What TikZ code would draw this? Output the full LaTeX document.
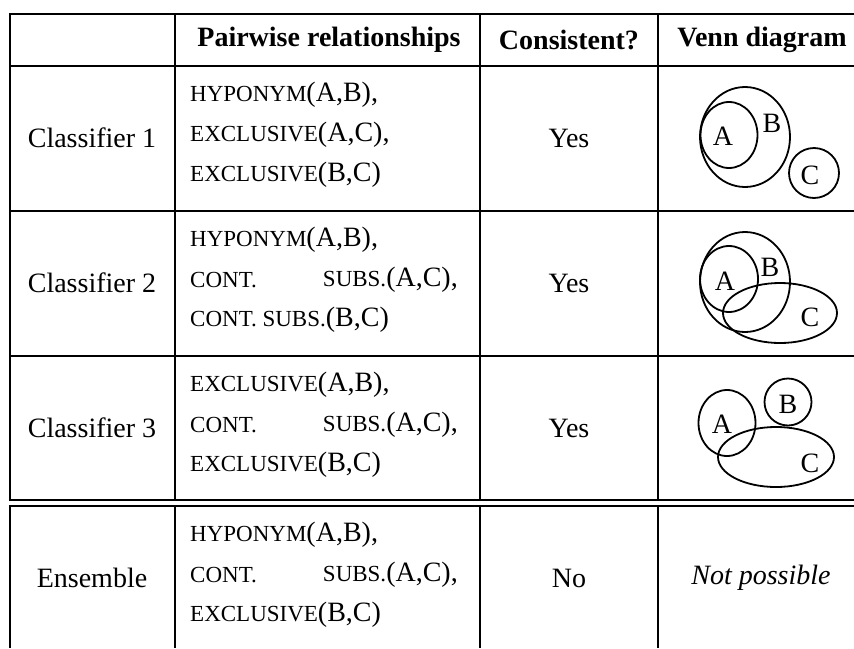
\documentclass[tikz,border=0pt]{standalone}
\usepackage{fontspec}
\setmainfont{Liberation Serif}
\usetikzlibrary{positioning}
% small capitals imitated with reduced upper-case letters
\newcommand\relname[1]{{\fontsize{23}{27}\selectfont #1}}
\tikzset{
  rule/.style={line width=2pt},
  cell/.style={inner sep=0pt, font=\fontsize{28}{33}\selectfont},
  headcell/.style={cell, font=\fontsize{28}{33}\selectfont\bfseries},
  relline/.style={cell, anchor=west},
  setshape/.style={draw, line width=1.8pt},
  setlabel/.style={cell},
}
\begin{document}
\begin{tikzpicture}[x=1pt, y=-1pt]
\useasboundingbox (0,0) rectangle (854,648);

% table rules
\draw[rule] (9,14) -- (854,14);
\draw[rule] (9,66) -- (854,66);
\draw[rule] (9,211) -- (854,211);
\draw[rule] (9,356) -- (854,356);
\draw[rule] (9,500) -- (854,500);
\draw[rule] (9,506) -- (854,506);
\foreach \x in {10,175,480,658} {
  \draw[rule] (\x,13) -- (\x,500);
  \draw[rule] (\x,506) -- (\x,648);
}

% header
\node[headcell] (hpair) at (329,40) {Pairwise relationships};
\node[headcell] (hcons) at (569,40) {Consistent?};
\node[headcell] (hvenn) at (762,40) {Venn diagram};

% row labels
\node[cell] (c1) at (92,138) {Classifier 1};
\node[cell] (c2) at (92,283) {Classifier 2};
\node[cell] (c3) at (92,428) {Classifier 3};
\node[cell] (c4) at (92,578) {Ensemble};

% consistency column
\node[cell] (y1) at (569,138) {Yes};
\node[cell] (y2) at (569,283) {Yes};
\node[cell] (y3) at (569,428) {Yes};
\node[cell] (y4) at (569,578) {No};

% pairwise relationships
\node[relline] (r1a) at (190,95) {\relname{HYPONYM}(A,B),};
\node[relline] (r1b) at (190,135) {\relname{EXCLUSIVE}(A,C),};
\node[relline] (r1c) at (190,175) {\relname{EXCLUSIVE}(B,C)};

\node[relline] (r2a) at (190,240) {\relname{HYPONYM}(A,B),};
\node[relline] (r2b) at (190,280) {\relname{CONT.}};
\node[cell, anchor=east] (r2bb) at (458,280) {\relname{SUBS.}(A,C),};
\node[relline] (r2c) at (190,320) {\relname{CONT. SUBS.}(B,C)};

\node[relline] (r3a) at (190,385) {\relname{EXCLUSIVE}(A,B),};
\node[relline] (r3b) at (190,425) {\relname{CONT.}};
\node[cell, anchor=east] (r3bb) at (458,425) {\relname{SUBS.}(A,C),};
\node[relline] (r3c) at (190,465) {\relname{EXCLUSIVE}(B,C)};

\node[relline] (r4a) at (190,535) {\relname{HYPONYM}(A,B),};
\node[relline] (r4b) at (190,575) {\relname{CONT.}};
\node[cell, anchor=east] (r4bb) at (458,575) {\relname{SUBS.}(A,C),};
\node[relline] (r4c) at (190,615) {\relname{EXCLUSIVE}(B,C)};

% Venn diagram, classifier 1: A inside B, C apart
\draw[setshape] (745,137) ellipse [x radius=45, y radius=50];
\draw[setshape] (729,135) ellipse [x radius=28.5, y radius=33];
\draw[setshape] (814,173) circle [radius=25];
\node[setlabel] (v1a) at (723,136) {A};
\node[setlabel] (v1b) at (772,123) {B};
\node[setlabel] (v1c) at (810,175) {C};

% Venn diagram, classifier 2: A inside B, C overlapping both
\draw[setshape] (745,282) ellipse [x radius=45, y radius=50];
\draw[setshape] (729,279) ellipse [x radius=29, y radius=33];
\draw[setshape] (780,313) ellipse [x radius=57, y radius=30];
\node[setlabel] (v2a) at (725,281) {A};
\node[setlabel] (v2b) at (770,267) {B};
\node[setlabel] (v2c) at (810,317) {C};

% Venn diagram, classifier 3: B apart, C overlapping A
\draw[setshape] (727,423) ellipse [x radius=28.5, y radius=33];
\draw[setshape] (788,402) circle [radius=23.5];
\draw[setshape] (776,457) ellipse [x radius=58, y radius=30];
\node[setlabel] (v3a) at (722,424) {A};
\node[setlabel] (v3b) at (788,404) {B};
\node[setlabel] (v3c) at (810,463) {C};

% ensemble
\node[cell, font=\fontsize{28}{33}\selectfont\itshape] (v4) at (761,578) {Not possible};
\end{tikzpicture}
\end{document}
